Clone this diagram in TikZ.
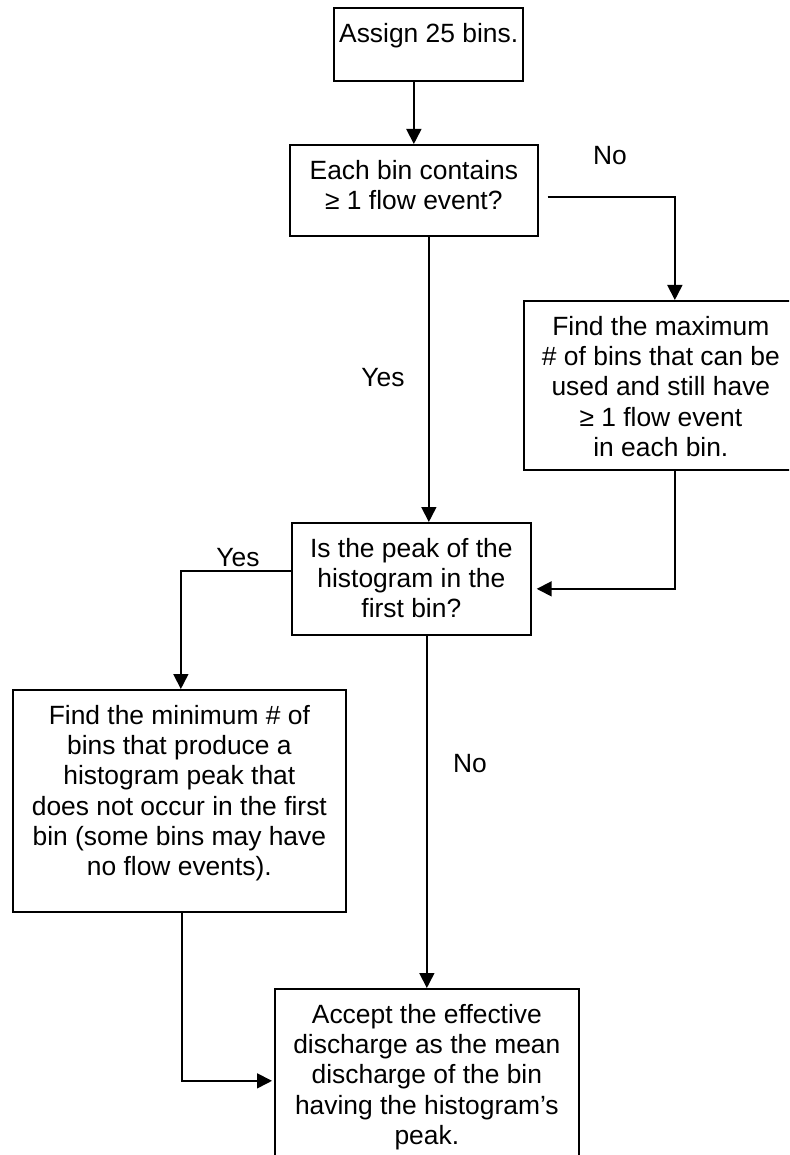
\documentclass[tikz,border=0pt]{standalone}
\usepackage{fontspec}
\setmainfont{Liberation Sans}
\usetikzlibrary{arrows.meta}
\newcommand\fbtext[3]{\parbox[c][#2][t]{#1}{\centering\rule{0pt}{34.5pt}#3}}
\begin{document}
\begin{tikzpicture}[x=1pt,y=-1pt,
  box/.style={draw, line width=1.7pt, inner sep=0pt, anchor=north west,
    font=\fontsize{26.4}{30.3}\selectfont},
  arr/.style={line width=1.7pt, -{Triangle[length=15pt,width=15pt]}},
  lab/.style={font=\fontsize{26.4}{30.3}\selectfont, anchor=base, inner sep=0pt}]
\useasboundingbox (0,0) rectangle (789,1155);
\clip (0,0) rectangle (789,1155);

\node[box, line width=2.4pt] (b1) at (333,7) {\fbtext{189pt}{73pt}{Assign 25 bins.}};
\node[box] (b2) at (289,144) {\fbtext{248pt}{91pt}{Each bin contains\\ ≥ 1 flow event?}};
\node[box] (b3) at (523,300) {\fbtext{274pt}{169pt}{Find the maximum\\ \# of bins that can be\\ used and still have\\ ≥ 1 flow event\\ in each bin.}};
\node[box] (b4) at (291,522) {\fbtext{239pt}{112pt}{Is the peak of the\\ histogram in the\\ first bin?}};
\node[box] (b5) at (12,689) {\fbtext{333pt}{222pt}{Find the minimum \# of\\ bins that produce a\\ histogram peak that\\ does not occur in the first\\ bin (some bins may have\\ no flow events).}};
\node[box] (b6) at (274,988) {\fbtext{304pt}{172pt}{Accept the effective\\ discharge as the mean\\ discharge of the bin\\ having the histogram’s\\ peak.}};

\draw[arr] (b1.south -| b2.north) -- (b2.north);
\draw[arr] ([shift={(9,6.5)}]b2.east) -| ([xshift=14]b3.north);
\draw[arr] ([xshift=15]b2.south) -- ([xshift=15]b2.south |- b4.north);
\draw[arr] ([xshift=14]b3.south) |- ([shift={(5,10)}]b4.east);
\draw[arr] ([yshift=8]b4.west) -| ([xshift=1.5]b5.north);
\draw[arr] (b6.north |- b4.south) -- (b6.north);
\draw[arr] ([xshift=2.5]b5.south) |- ([shift={(-2,6)}]b6.west);

\node[lab] (no1) at (610,165) {No};
\node[lab] (yes1) at (383,386) {Yes};
\node[lab] (yes2) at (238,566) {Yes};
\node[lab] (no2) at (470,772) {No};
\end{tikzpicture}
\end{document}
